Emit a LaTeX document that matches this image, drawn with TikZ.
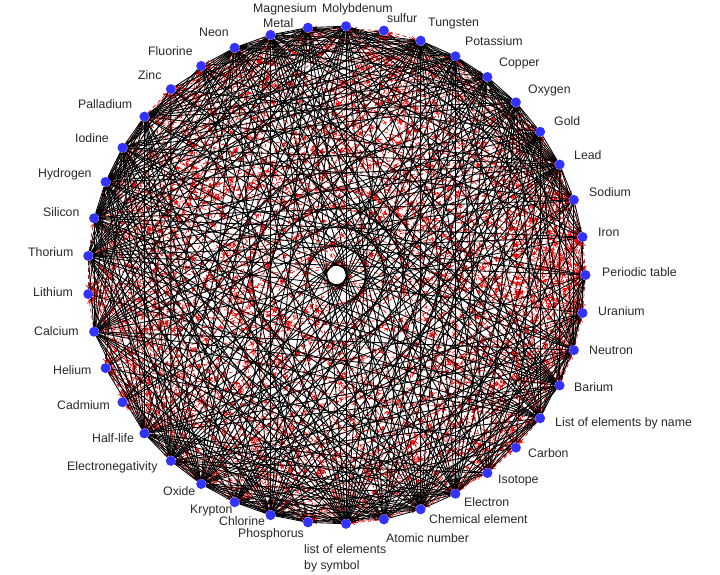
\documentclass[tikz,border=0pt]{standalone}
\usepackage{fontspec}
\setmainfont{Liberation Sans}
\usetikzlibrary{arrows.meta,decorations.markings}
\definecolor{dotblue}{RGB}{51,51,255}
\definecolor{edgered}{RGB}{235,0,0}
\definecolor{txt}{RGB}{40,40,40}
\tikzset{
  dot/.style={circle,draw=none,minimum size=10pt,inner sep=0pt},
  lab/.style={anchor=west,inner sep=0pt,text=txt,font=\fontsize{12.3}{16}\selectfont},
  bedge/.style={draw=black,line width=0.85pt},
  redge/.style={draw=edgered,line width=0.65pt,dash pattern=on 4pt off 3pt,-{To[length=4pt,width=5pt]},
    postaction={decorate,decoration={markings,
      mark=between positions 25pt and -20pt step 38pt with {\draw[edgered,line width=0.6pt,solid] (-3pt,-2.5pt) -- (0,0) -- (-3pt,2.5pt);}}}},
}
\begin{document}
\begin{tikzpicture}[x=1pt,y=-1pt]
\fill[white] (0,0) rectangle (720,575);
\useasboundingbox (0,0) rectangle (720,575);
\foreach \k in {0,...,40}{
  \node[dot] (n\k) at ({336.5+249*cos(\k*360/41)},{275-249*sin(\k*360/41)}) {};
}
\def\wb{{0.3,0.4,0.6,0.8,0.8,0.8,0.9,0.8,0.8,0.2,0.9,0.9,0.8,0.8,0.3,0.4,0.7,0.8,0.8,0.8,0.8,0.1,0.9,0.3,0.2,0.9,0.9,0.9,0.5,0.9,0.3,0.9,0.8,0.9,0.8,0.7,0.2,0.7,0.8,0.7,0.4}}
\def\wr{{1.0,0.9,0.6,0.3,0.3,0.3,0.3,0.3,0.3,0.7,0.4,0.3,0.3,0.3,0.6,0.5,0.3,0.3,0.3,0.3,0.4,0.7,0.4,0.6,0.6,0.3,0.3,0.3,0.4,0.5,0.7,0.6,0.4,0.4,0.4,0.5,0.6,0.6,0.6,0.7,0.9}}
\foreach \pass in {1,2}{
  \pgfmathsetseed{7}
  \foreach \i in {0,...,39}{
    \pgfmathtruncatemacro\js{\i+1}
    \foreach \j in {\js,...,40}{
      \pgfmathsetmacro\ua{rnd}
      \pgfmathsetmacro\ub{rnd}
      \pgfmathsetmacro\uc{rnd}
      \pgfmathsetmacro\pb{1.12*\wb[\i]*\wb[\j]}
      \pgfmathtruncatemacro\isb{\ua<\pb}
      \ifnum\isb=1
        \ifnum\pass=2 \draw[bedge] (n\i) -- (n\j);\fi
      \else
        \ifnum\pass=1
          \pgfmathsetmacro\pr{0.15+0.55*max(\wr[\i],\wr[\j])}
          \pgfmathtruncatemacro\isr{\ub<\pr}
          \ifnum\isr=1
            \pgfmathtruncatemacro\dir{\uc<\wr[\j]/(\wr[\i]+\wr[\j])}
            \ifnum\dir=1
              \draw[redge] (n\i) -- (n\j);
            \else
              \draw[redge] (n\j) -- (n\i);
            \fi
          \fi
        \fi
      \fi
    }
  }
}
\foreach \k in {0,...,40}{
  \fill[dotblue] (n\k) circle (5pt);
}
\node[lab] (l0) at (602,272) {Periodic table};
\node[lab] (l1) at (598,232) {Iron};
\node[lab] (l2) at (589,192) {Sodium};
\node[lab] (l3) at (574,155) {Lead};
\node[lab] (l4) at (554,121) {Gold};
\node[lab] (l5) at (528,90) {Oxygen};
\node[lab] (l6) at (499,63) {Copper};
\node[lab] (l7) at (465,41) {Potassium};
\node[lab] (l8) at (428,24) {Tungsten};
\node[lab] (l9) at (387,18) {sulfur};
\node[lab] (l10) at (322,9) {Molybdenum};
\node[lab] (l11) at (253,9) {Magnesium};
\node[lab] (l12) at (263,23) {Metal};
\node[lab] (l13) at (199,32) {Neon};
\node[lab] (l14) at (148,51) {Fluorine};
\node[lab] (l15) at (138,75) {Zinc};
\node[lab] (l16) at (78,104) {Palladium};
\node[lab] (l17) at (75,138) {Iodine};
\node[lab] (l18) at (38,174) {Hydrogen};
\node[lab] (l19) at (43,212) {Silicon};
\node[lab] (l20) at (28,252) {Thorium};
\node[lab] (l21) at (33,292) {Lithium};
\node[lab] (l22) at (34,331) {Calcium};
\node[lab] (l23) at (53,370) {Helium};
\node[lab] (l24) at (57,405) {Cadmium};
\node[lab] (l25) at (92,438) {Half-life};
\node[lab] (l26) at (67,467) {Electronegativity};
\node[lab] (l27) at (163,491) {Oxide};
\node[lab] (l28) at (190,511) {Krypton};
\node[lab] (l29) at (219,521) {Chlorine};
\node[lab] (l30) at (238,534) {Phosphorus};
\node[lab,align=left] (l31) at (304,558) {list of elements\\by symbol};
\node[lab] (l32) at (386,538) {Atomic number};
\node[lab] (l33) at (429,519) {Chemical element};
\node[lab] (l34) at (464,502) {Electron};
\node[lab] (l35) at (498,481) {Isotope};
\node[lab] (l36) at (528,453) {Carbon};
\node[lab] (l37) at (555,423) {List of elements by name};
\node[lab] (l38) at (574,387) {Barium};
\node[lab] (l39) at (589,350) {Neutron};
\node[lab] (l40) at (598,311) {Uranium};
\end{tikzpicture}
\end{document}
